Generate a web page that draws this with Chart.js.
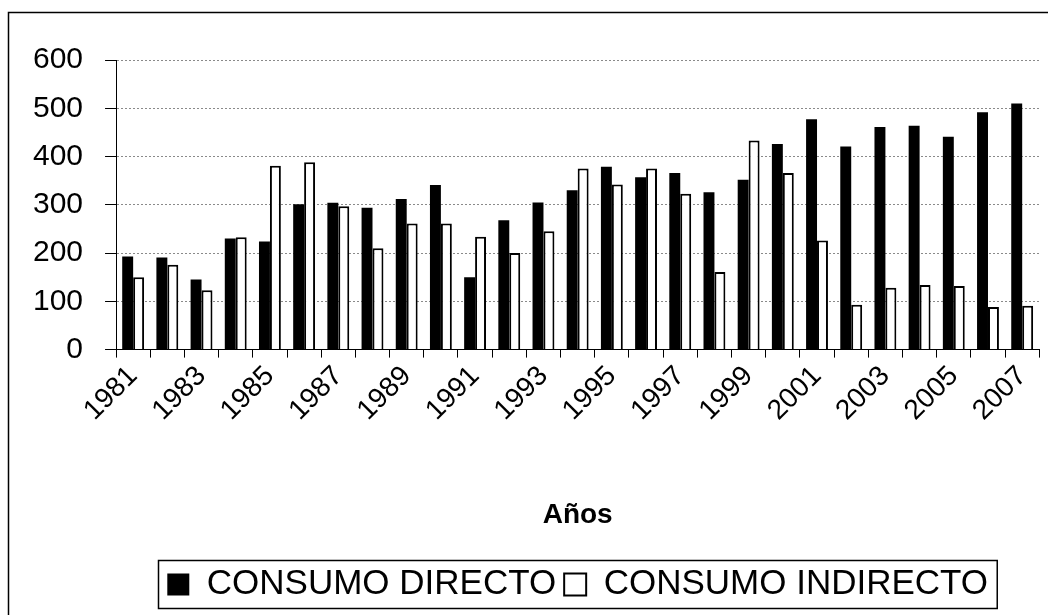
<!DOCTYPE html>
<html>
<head>
<meta charset="utf-8">
<script src="https://cdn.jsdelivr.net/npm/chart.js@4"></script>
<style>
  html, body { margin: 0; padding: 0; background: #fff; }
  #wrap { width: 1048px; height: 615px; }
</style>
</head>
<body>
<div id="wrap"><canvas id="consumoChart" width="1048" height="615"></canvas></div>
<script>
// datos
const years = ['1981','1982','1983','1984','1985','1986','1987','1988','1989','1990',
  '1991','1992','1993','1994','1995','1996','1997','1998','1999','2000',
  '2001','2002','2003','2004','2005','2006','2007'];
const consumoDirecto = [193, 191, 145, 230, 224, 301, 304, 294, 312, 341,
  150, 268, 305, 330, 379, 357, 366, 326, 352, 426,
  477, 421, 461, 464, 441, 492, 510];
const consumoIndirecto = [150, 176, 123, 233, 381, 388, 297, 210, 261, 261,
  234, 200, 245, 375, 342, 375, 323, 161, 433, 366,
  226, 93, 128, 134, 132, 88, 91];
const yTicks = [0, 100, 200, 300, 400, 500, 600];

const FONT = 'Arial, "Liberation Sans", sans-serif';

// marco exterior y recuadro de la leyenda
const framePlugin = {
  id: 'frame',
  beforeDraw(chart) {
    const c = chart.ctx;
    c.save();
    c.fillStyle = '#fff';
    c.fillRect(0, 0, chart.width, chart.height);
    c.strokeStyle = '#000';
    c.lineWidth = 1.5;
    c.strokeRect(8.5, 12.5, 1200, 800);
    c.restore();
  },
  afterDraw(chart) {
    const boxes = chart.legend && chart.legend.legendHitBoxes;
    if (!boxes || !boxes.length) return;
    let x0 = Infinity, x1 = -Infinity, y0 = Infinity, y1 = -Infinity;
    boxes.forEach(b => {
      x0 = Math.min(x0, b.left); x1 = Math.max(x1, b.left + b.width);
      y0 = Math.min(y0, b.top); y1 = Math.max(y1, b.top + b.height);
    });
    const c = chart.ctx;
    c.save();
    c.strokeStyle = '#000';
    c.lineWidth = 1.5;
    c.strokeRect(Math.round(x0 - 9) + 0.5, Math.round(y0 - 7) + 0.5, x1 - x0 + 18, y1 - y0 + 13);
    c.restore();
  }
};

const ctx = document.getElementById('consumoChart').getContext('2d');
new Chart(ctx, {
  type: 'bar',
  data: {
    labels: years,
    datasets: [
      {
        label: 'CONSUMO DIRECTO',
        data: consumoDirecto,
        backgroundColor: '#000',
        borderColor: '#000',
        borderWidth: 0,
        categoryPercentage: 0.64,
        barPercentage: 1.0
      },
      {
        label: 'CONSUMO INDIRECTO',
        data: consumoIndirecto,
        backgroundColor: '#fff',
        borderColor: '#000',
        borderWidth: 2,
        categoryPercentage: 0.64,
        barPercentage: 1.0
      }
    ]
  },
  options: {
    responsive: false,
    animation: false,
    layout: { padding: { left: 11, top: 60, right: 3, bottom: 3 } },
    plugins: {
      tooltip: { enabled: false },
      legend: {
        position: 'bottom',
        fullSize: false,
        labels: {
          color: '#000',
          font: { family: FONT, size: 35 },
          boxWidth: 22,
          boxHeight: 22,
          padding: 8
        }
      }
    },
    scales: {
      x: {
        offset: true,
        grid: {
          offset: true,
          display: true,
          drawOnChartArea: false,
          color: '#000',
          tickLength: 8
        },
        border: { display: true, color: '#000', width: 1 },
        ticks: {
          color: '#000',
          font: { family: FONT, size: 28 },
          autoSkip: false,
          maxRotation: 45,
          minRotation: 45,
          padding: 2,
          callback: function (v, i) { return i % 2 === 0 ? this.getLabelForValue(v) : ''; }
        },
        title: {
          display: true,
          text: 'Años',
          color: '#000',
          font: { family: FONT, size: 28, weight: 'bold' },
          padding: { top: 69, bottom: 27 }
        }
      },
      y: {
        min: 0,
        max: 600,
        afterBuildTicks: axis => { axis.ticks = yTicks.map(v => ({ value: v })); },
        grid: {
          color: '#8a8a8a',
          lineWidth: 1,
          tickColor: '#000',
          tickLength: 11,
          tickBorderDash: []
        },
        border: { display: true, color: '#000', width: 1, dash: [2, 2] },
        ticks: {
          color: '#000',
          font: { family: FONT, size: 30 },
          padding: 22
        }
      }
    }
  },
  plugins: [framePlugin]
});
</script>
</body>
</html>
